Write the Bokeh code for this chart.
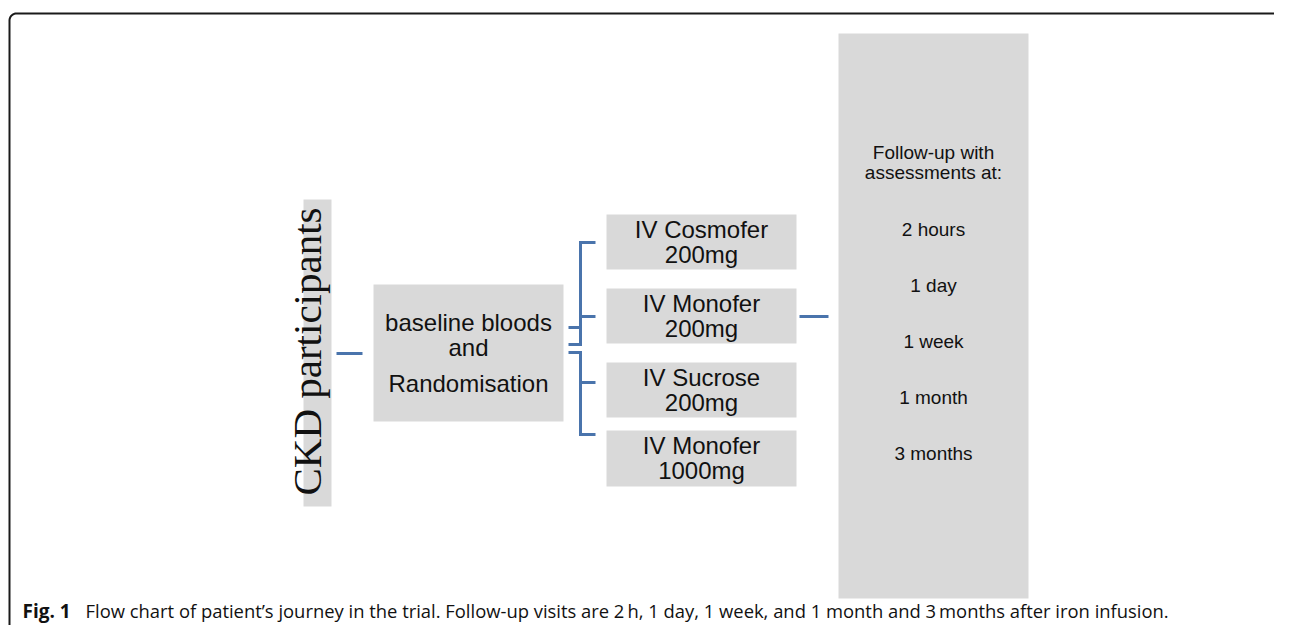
import numpy as np
from bokeh.plotting import figure
from bokeh.models import Range1d
from bokeh.core.properties import value
from bokeh.embed import file_html
from bokeh.resources import INLINE

# ---- content ----
participants_label = "CKD participants"
baseline_lines = ["baseline bloods", "and", "Randomisation"]
arm_names = ["IV Cosmofer", "IV Monofer", "IV Sucrose", "IV Monofer"]
arm_doses = ["200mg", "200mg", "200mg", "1000mg"]
followup_header = ["Follow-up with", "assessments at:"]
followup_times = ["2 hours", "1 day", "1 week", "1 month", "3 months"]
caption_bold = "Fig. 1"
caption_text = ("Flow chart of patient\u2019s journey in the trial. Follow-up visits are 2\u2009h, "
                "1 day, 1 week, and 1 month and 3\u2009months after iron infusion.")

# ---- layout (picture pixel coordinates) ----
GREY = "#d9d9d9"
BLUE = "#4a74ac"
INK = "#111111"
W, H = 1274, 625

p = figure(width=W, height=H, output_backend="svg", toolbar_location=None,
           x_range=Range1d(0, W), y_range=Range1d(H, 0),
           min_border=0, outline_line_color=None)
p.axis.visible = False
p.grid.visible = False
p.background_fill_color = "white"
p.border_fill_color = "white"

# frame with rounded top corners
r = 7
t = np.linspace(np.pi, 1.5 * np.pi, 12)
lx = list(9 + r + r * np.cos(t))
ly = list(13 + r + r * np.sin(t))
t2 = np.linspace(1.5 * np.pi, 2 * np.pi, 12)
rx = list(1288 - r + r * np.cos(t2))
ry = list(13 + r + r * np.sin(t2))
p.line([9] + lx + rx + [1288], [660] + ly + ry + [660], line_color="#1a1a1a", line_width=2)

# boxes
box_left = [303, 373] + [606] * 4 + [838]
box_right = [331, 563] + [796] * 4 + [1028]
box_top = [199, 284, 214, 288, 362, 430, 33]
box_bottom = [506, 421, 269, 343, 417, 486, 598]
p.quad(left=box_left, right=box_right, top=box_top, bottom=box_bottom,
       fill_color=GREY, line_color=None)

# connectors
p.segment(x0=[336, 580, 568, 580, 799], y0=[353, 316, 327, 382, 316],
          x1=[362, 595, 580, 595, 828], y1=[353, 316, 327, 382, 316],
          line_color=BLUE, line_width=3, line_cap="butt")
p.multi_line(xs=[[595, 580, 580, 568], [568, 580, 580, 595]],
             ys=[[242, 242, 344, 344], [352, 352, 434, 434]],
             line_color=BLUE, line_width=3, line_join="miter", line_cap="butt")

# CKD label (rotated)
p.text(x=[306], y=[351], text=[participants_label], angle=np.pi / 2,
       text_font=value("Liberation Serif"), text_font_size="41px",
       text_align="center", text_baseline="alphabetic", text_color=INK)

sans = value("Liberation Sans")
# baseline box text
p.text(x=[468] * 3, y=[322, 347, 383], text=baseline_lines, text_font=sans,
       text_font_size="24px", text_align="center", text_baseline="alphabetic",
       text_color=INK)

# arm texts
arm_y_name = [229, 303, 377, 445]
arm_y_dose = [254, 328, 402, 470]
p.text(x=[701] * 4, y=arm_y_name, text=arm_names, text_font=sans, text_font_size="24px",
       text_align="center", text_baseline="alphabetic", text_color=INK)
p.text(x=[701] * 4, y=arm_y_dose, text=arm_doses, text_font=sans, text_font_size="24px",
       text_align="center", text_baseline="alphabetic", text_color=INK)

# follow-up texts
p.text(x=[933] * 2, y=[152, 172], text=followup_header, text_font=sans, text_font_size="19px",
       text_align="center", text_baseline="alphabetic", text_color=INK)
p.text(x=[933] * 5, y=[229, 285, 341, 397, 453], text=followup_times, text_font=sans,
       text_font_size="19px", text_align="center", text_baseline="alphabetic",
       text_color=INK)

# caption
p.text(x=[22], y=[610], text=[caption_bold], text_font=value("Open Sans"),
       text_font_size="19px", text_font_style="bold", text_baseline="alphabetic",
       text_color=INK)
p.text(x=[85], y=[610], text=[caption_text], text_font=value("Open Sans"),
       text_font_size="18.4px", text_baseline="alphabetic", text_color=INK)

open("out.html", "w").write(file_html(p, INLINE))
